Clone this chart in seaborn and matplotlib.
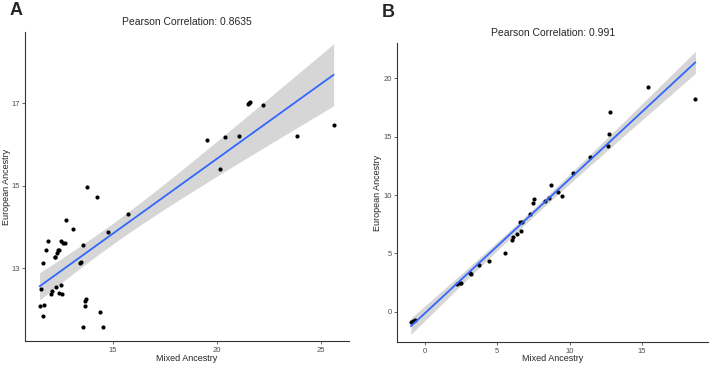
import numpy as np
import pandas as pd
import matplotlib
matplotlib.use("Agg")
import matplotlib.pyplot as plt
import seaborn as sns

# Panel A data
mixed_a = [19.50, 20.38, 21.04, 21.50, 21.55, 21.58, 22.23, 23.83, 25.61, 20.14,
           13.76, 14.25, 15.72, 14.74, 12.74, 13.06, 11.88, 12.50, 12.61, 12.71,
           11.78, 12.37, 12.42, 12.31, 12.19, 12.22, 13.57, 11.62, 13.41, 13.45,
           11.54, 12.26, 12.51, 12.08, 12.03, 12.42, 12.56, 13.72, 13.67, 13.64,
           11.47, 11.68, 11.62, 14.38, 13.54, 14.52]
european_a = [16.11, 16.18, 16.21, 16.98, 17.01, 17.03, 16.95, 16.21, 16.47, 15.40,
              14.97, 14.72, 14.30, 13.87, 14.17, 13.95, 13.66, 13.65, 13.61, 13.62,
              13.44, 13.43, 13.43, 13.36, 13.28, 13.26, 13.55, 13.12, 13.13, 13.15,
              12.50, 12.55, 12.59, 12.44, 12.36, 12.39, 12.38, 12.24, 12.20, 12.09,
              12.08, 12.10, 11.83, 11.93, 11.57, 11.58]

# Panel B data
mixed_b = [15.39, 18.68, 12.81, 12.74, 12.65, 11.38, 10.21, 8.73, 9.19, 9.47,
           8.57, 8.29, 7.53, 7.44, 7.24, 6.57, 6.68, 6.61, 6.38, 6.08, 5.99,
           5.55, 4.42, 3.73, 3.18, 3.13, 2.51, 2.42, 2.19, -0.81, -0.97, -0.69]
european_b = [19.25, 18.23, 17.08, 15.25, 14.22, 13.28, 11.89, 10.88, 10.23, 9.89,
              9.77, 9.51, 9.63, 9.29, 8.37, 7.71, 7.66, 6.89, 6.66, 6.40, 6.17,
              5.06, 4.34, 4.00, 3.20, 3.34, 2.46, 2.43, 2.35, -0.80, -0.88, -0.71]

titles = ["Pearson Correlation: 0.8635", "Pearson Correlation: 0.991"]
panel_tags = ["A", "B"]

sns.set_theme(style="white")
plt.rcParams["font.family"] = ["Liberation Sans", "DejaVu Sans"]

fig = plt.figure(figsize=(7.11, 3.65), dpi=100)
ax_a = fig.add_axes([0.0352, 0.0658, 0.4557, 0.8466])
ax_b = fig.add_axes([0.5588, 0.0622, 0.4370, 0.8190])

panels = [
    (ax_a, pd.DataFrame({"mixed": mixed_a, "european": european_a}),
     (10.77, 26.35), (11.23, 18.73), [15, 20, 25], [13, 15, 17], (-0.043, -0.042)),
    (ax_b, pd.DataFrame({"mixed": mixed_b, "european": european_b}),
     (-1.91, 19.55), (-2.62, 23.0), [0, 5, 10, 15], [0, 5, 10, 15, 20], (-0.048, -0.040)),
]

for i, (ax, df, xlim, ylim, xticks, yticks, lab_pos) in enumerate(panels):
    # ggplot-style confidence band (analytic, like geom_smooth(method="lm"))
    x = df["mixed"].to_numpy()
    y = df["european"].to_numpy()
    n = len(x)
    slope, intercept = np.polyfit(x, y, 1)
    resid = y - (slope * x + intercept)
    s = np.sqrt((resid ** 2).sum() / (n - 2))
    grid = np.linspace(x.min(), x.max(), 100)
    se = s * np.sqrt(1 / n + (grid - x.mean()) ** 2 / ((x - x.mean()) ** 2).sum())
    t_crit = 1.96 + 2.4 / (n - 2)
    fit = slope * grid + intercept
    ax.fill_between(grid, fit - t_crit * se, fit + t_crit * se,
                    color="#999999", alpha=0.4, linewidth=0, zorder=2)

    sns.regplot(data=df, x="mixed", y="european", ax=ax, ci=None,
                color="#3366FF",
                scatter_kws={"s": 9, "color": "black", "alpha": 1, "linewidths": 0, "zorder": 3},
                line_kws={"linewidth": 1.3, "zorder": 4})
    ax.set_xlim(*xlim)
    ax.set_ylim(*ylim)
    ax.set_xticks(xticks)
    ax.set_yticks(yticks)
    ax.set_title(titles[i], fontsize=7.5, pad=5)
    ax.set_xlabel("Mixed Ancestry", fontsize=6.5)
    ax.set_ylabel("European Ancestry", fontsize=6.5)
    ax.yaxis.set_label_coords(lab_pos[0], 0.5)
    ax.xaxis.set_label_coords(0.5, lab_pos[1])
    ax.tick_params(axis="both", labelsize=5.5, colors="#4d4d4d", length=2.5, width=0.6,
                   direction="out", pad=1.5, left=True, bottom=True)
    sns.despine(ax=ax)
    for side in ["left", "bottom"]:
        ax.spines[side].set_color("#333333")
        ax.spines[side].set_linewidth(0.8)
    ax.grid(False)

fig.text(0.014, 0.995, panel_tags[0], fontsize=13, fontweight="bold", va="top", ha="left")
fig.text(0.537, 0.99, panel_tags[1], fontsize=13, fontweight="bold", va="top", ha="left")

fig.savefig("out.png", dpi=100)
